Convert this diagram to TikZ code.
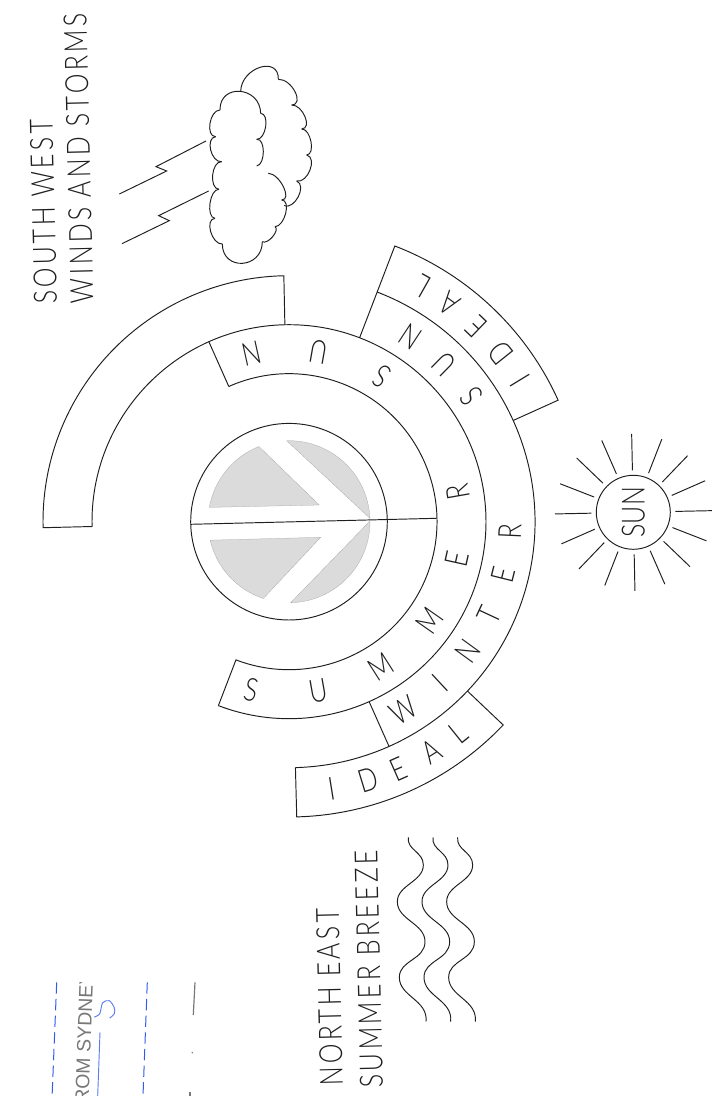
\documentclass[tikz,border=0pt]{standalone}
\usepackage{fontspec}
\usetikzlibrary{positioning}
\newfontfamily\cadfont[FakeStretch=0.78]{Lato Light}
\newfontfamily\cadspaced[FakeStretch=0.78,LetterSpace=10]{Lato Light}
\setmainfont{Liberation Sans}
\definecolor{inkline}{RGB}{30,30,30}
\definecolor{shadegray}{RGB}{219,219,219}
\definecolor{sketchblue}{RGB}{50,90,235}
\definecolor{sketchgray}{RGB}{120,120,120}
\tikzset{
  ringline/.style={draw=inkline,line width=0.72pt},
  bandletter/.style={font=\cadfont\fontsize{24}{24}\selectfont,text=inkline,inner sep=0pt},
  noteline/.style={font=\cadspaced\fontsize{24}{24}\selectfont,text=inkline,inner sep=0pt,anchor=base west,rotate=91.4},
  wedge/.style={fill=shadegray,draw=gray!70,line width=0.2pt}
}
\begin{document}
\begin{tikzpicture}[x=0.75pt,y=0.75pt]
  \useasboundingbox (-289,-574.3) rectangle (431,521.7);
  \def\ra{98.3}\def\rb{148}\def\rc{197}\def\rd{246}\def\re{295.3}
  % grey wedges inside the disc
  \fill[wedge] (111.8:81) arc[start angle=111.8,end angle=169.8,radius=81] -- (30.3,16.7) -- cycle;
  \fill[wedge] (91.6:81) arc[start angle=91.6,end angle=2.4,radius=81] -- cycle;
  \fill[wedge] (193.2:81) arc[start angle=193.2,end angle=251.5,radius=81] -- (31.7,-15.6) -- cycle;
  \fill[wedge] (0.5:81) arc[start angle=0.5,end angle=-88.8,radius=81] -- cycle;
  \draw[ringline] (0,0) circle[radius=\ra];
  \draw[ringline] (-98.3,-2.6) -- (147.7,3.4);
  % the bands
  \draw[ringline] (114:\rb) arc[start angle=114,end angle=-111,radius=\rb] -- (-111:\rc);
  \draw[ringline] (114:\rb) -- (114:\rc);
  \draw[ringline] (181.4:\rc) arc[start angle=181.4,end angle=-111,radius=\rc];
  \draw[ringline] (181.4:\rc) -- (181.4:\rd) arc[start angle=181.4,end angle=91.2,radius=\rd] -- (91.2:\rc);
  \draw[ringline] (69:\rc) -- (69:\re) arc[start angle=69,end angle=24.3,radius=\re] -- (24.3:\rd);
  \draw[ringline] (69:\rd) arc[start angle=69,end angle=-88.5,radius=\rd];
  \draw[ringline] (-66:\rc) -- (-66:\rd);
  \draw[ringline] (-43.5:\rd) -- (-43.5:\re) arc[start angle=-43.5,end angle=-88.5,radius=\re] -- (-88.5:\rd);
  % letters on the bands
  \foreach \ltr/\ang [count=\i] in {S/-102.5,U/-80,M/-57.5,M/-35,E/-12.5,R/10,S/57.5,U/80,N/102.5}
    \node[bandletter,rotate=\ang+90] (summer\i) at (\ang:172) {\ltr};
  \foreach \ltr/\ang [count=\i] in {W/-58.7,I/-47,N/-36,T/-25,E/-14,R/-2.5,S/34.4,U/45.5,N/56.6}
    \node[bandletter,rotate=\ang+90] (winter\i) at (\ang:221) {\ltr};
  \foreach \ltr/\ang [count=\i] in {I/31.4,D/38.6,E/46.2,A/53.6,L/60.5}
    \node[bandletter,rotate=\ang+90] (idealtop\i) at (\ang:270.5) {\ltr};
  \foreach \ltr/\ang [count=\i] in {I/-80.9,D/-73,E/-66.2,A/-58.3,L/-51.2}
    \node[bandletter,rotate=\ang+90] (idealbot\i) at (\ang:270.5) {\ltr};
  % sun
  \begin{scope}[shift={(344.3,9.4)}]
    \draw[ringline] (0,0) circle[radius=37];
    \foreach \k in {0,...,15}
      \draw[ringline] ({1.2+22.5*\k}:42) -- ({1.2+22.5*\k}:78.5);
    \node[bandletter,rotate=90] (sunlabel) at (0,0) {SUN};
  \end{scope}
  % notes
  \node[noteline] (swnote) at (-232,217.5) {SOUTH WEST};
  \node[noteline] (swnotetwo) at (-195.5,218.4) {WINDS AND STORMS};
  \node[noteline] (nenote) at (54,-564.3) {NORTH EAST};
  \node[noteline] (nenotetwo) at (94,-566.3) {SUMMER BREEZE};
  % cloud and lightning, traced in zoomed units
  \begin{scope}[shift={(-189,471.7)},x=0.25pt,y=-0.25pt]
    \foreach \xa/\ya/\xv/\yv/\xb/\yb in {
      360/180/420/124/482/190, 482/190/497/230/470/268, 470/268/490/305/470/348,
      505/370/550/410/545/450, 545/450/557/490/525/530, 525/530/518/560/487/575,
      487/575/427/640/367/582, 367/582/332/545/345/505, 345/505/330/460/357/418,
      357/418/338/375/365/335, 365/335/332/300/347/260, 347/260/330/220/360/180,
      422/124/480/52/535/88, 535/88/585/125/575/165, 575/165/615/200/605/237,
      605/237/633/275/620/315, 620/315/630/360/590/393, 590/393/595/440/552/467}
      \draw[ringline] (\xa,\ya) .. controls ({\xa+4/3*(\xv-(\xa+\xb)/2)},{\ya+4/3*(\yv-(\ya+\yb)/2)})
        and ({\xb+4/3*(\xv-(\xa+\xb)/2)},{\yb+4/3*(\yv-(\ya+\yb)/2)}) .. (\xb,\yb);
    \draw[ringline] (318,273) -- (168,350) -- (200,363) -- (58,432);
    \draw[ringline] (326,423) -- (176,497) -- (208,512) -- (66,581);
  \end{scope}
  % waves
  \begin{scope}[shift={(91,-298.3)},x=0.25pt,y=-0.25pt]
    \foreach \wx in {0,74,148}
      \draw[ringline,xshift=\wx*0.25pt] (85,52) .. controls (80,90) and (130,95) .. (130,135)
        .. controls (130,185) and (52,195) .. (52,245) .. controls (52,300) and (135,310) .. (135,365)
        .. controls (135,420) and (58,420) .. (58,472) .. controls (58,530) and (145,540) .. (138,605);
  \end{scope}
  % leftovers of another sheet at the foot
  \begin{scope}
    \clip (-289,-460.3) rectangle (-50,-574.3);
    \draw[sketchblue,line width=0.75pt,dash pattern=on 8.5pt off 4pt] (-232.3,-460.6) -- (-236.9,-574.3);
    \draw[sketchblue,line width=0.75pt,dash pattern=on 8.5pt off 4pt] (-141.7,-460.6) -- (-146,-574.3);
    \draw[sketchblue!80,line width=0.7pt] (-189,-510.6) -- (-191.3,-574.3);
    \draw[sketchblue!80,line width=0.7pt] plot[smooth] coordinates {(-194.7,-495.4) (-189.3,-492) (-186.3,-481) (-179.7,-479) (-174.7,-486) (-174.7,-492) (-179.3,-496.4)};
    \draw[sketchgray,line width=0.9pt] (-94,-460.6) -- (-95.7,-493.3);
    \fill[sketchgray] (-96.7,-531) circle (0.8);
    \draw[sketchgray,line width=0.9pt] (-99,-570) -- (-99,-574.3);
    \node[sketchgray,font=\fontsize{14.6}{14.6}\selectfont,rotate=88,anchor=base east,inner sep=0pt] (sydney) at (-195.7,-450.5) {FROM SYDNEY};
  \end{scope}
\end{tikzpicture}
\end{document}
